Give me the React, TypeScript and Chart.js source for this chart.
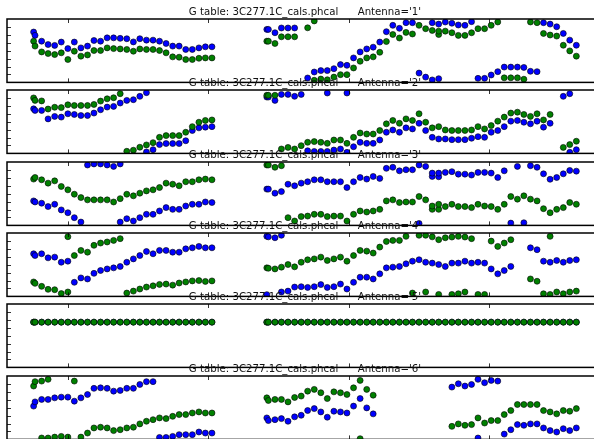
import { useEffect, useRef } from "react";
import { Chart, registerables } from "chart.js";

Chart.register(...registerables);

// Calibration table shown in every panel title
const TABLE_NAME = "3C277.1C_cals.phcal";

// Solution times (hours), first block and second block; each block starts with a
// near-duplicate solution a few seconds before the regular cadence.
const timesL = [
  9.755, 9.765, 9.812, 9.858, 9.905, 9.952, 9.999, 10.045, 10.092, 10.139, 10.185,
  10.232, 10.279, 10.325, 10.372, 10.419, 10.466, 10.512, 10.559, 10.606, 10.652,
  10.699, 10.746, 10.792, 10.839, 10.886, 10.933, 10.979, 11.026,
];
const timesR = [
  11.417, 11.428, 11.475, 11.521, 11.568, 11.615, 11.662, 11.708, 11.755, 11.802,
  11.848, 11.895, 11.942, 11.988, 12.035, 12.082, 12.129, 12.175, 12.222, 12.269,
  12.315, 12.362, 12.409, 12.455, 12.502, 12.549, 12.596, 12.642, 12.689, 12.736,
  12.782, 12.829, 12.876, 12.922, 12.969, 13.016, 13.063, 13.109, 13.156, 13.203,
  13.249, 13.296, 13.343, 13.389, 13.436, 13.483, 13.530, 13.576, 13.623,
];

// Axis ranges and tick positions
const timeMin = 9.5652;
const timeMax = 13.813;
const hourTicks = [10, 11, 12, 13];
const phaseMin = -180;
const phaseMax = 180;
const phaseTicks = [-135, -90, -45, 0, 45, 90, 135];

type Phase = number | null;

// Antenna 1 gain phases (deg): blue = pol 1, green = pol 2
const ant1BlueL: Phase[] = [106, 87, 54, 35, 30, 49, 12, 49, 16, 26, 58, 54, 73, 73, 70, 68, 50, 68, 60, 60, 54, 41, 26, 26, 7, 7, 16, 22, 22];
const ant1GreenL: Phase[] = [54, 26, -7, -16, -22, -12, -50, -3, -31, -24, 1, 1, 16, 12, 10, 7, -3, 10, 7, 7, 1, -12, -35, -37, -50, -50, -43, -41, -41];
const ant1BlueR: Phase[] = [121, 121, 102, 129, 129, 129, null, -155, -121, -113, -113, -102, -79, -83, -41, -7, 10, 20, 49, 108, 144, 127, 159, 159, null, null, 159, 151, 163, 156, 146, 144, 165, null, null, null, null, null, null, null, null, null, null, 159, 151, 136, 98, 60, 31];
const ant1GreenR: Phase[] = [54, 54, 41, 79, 79, 79, null, 130, 169, -161, -165, -150, -136, -136, -98, -60, -41, -35, -9, 52, 92, 72, 104, 95, 144, 125, 115, 111, 111, 102, 87, 87, 102, 125, 125, 144, 163, null, null, null, null, 163, 159, 98, 89, 83, 31, -1, -31];
const ant1BlueExtra: [number, number][] = [[12.502, -127], [12.549, -150], [12.596, -166], [12.642, -159], [12.922, -157], [12.969, -157], [13.016, -138], [13.063, -119], [13.109, -93], [13.156, -93], [13.203, -93], [13.249, -95], [13.296, -117], [13.343, -119]];
const ant1GreenExtra: [number, number][] = [[11.755, -168], [12.642, 92], [13.109, -154], [13.156, -154], [13.203, -154], [13.249, -162]];

// Antenna 2
const ant2BlueL: Phase[] = [73, 64, 64, 16, 30, 26, 45, 41, 35, 35, 49, 68, 83, 87, 106, 121, 125, 144, 165, -159, -130, -124, -124, -124, -108, -50, -35, -31, -28];
const ant2GreenL: Phase[] = [135, 121, 118, 72, 82, 80, 96, 92, 92, 92, 98, 117, 130, 136, 159, -168, -162, -145, -132, -119, -89, -79, -79, -79, -60, -28, -3, 7, 10];
const ant2BlueR: Phase[] = [140, 140, 121, 155, 155, 144, 155, -165, -169, -169, -169, -161, -155, -174, -142, -117, -123, -123, -104, -60, -47, -60, -35, -41, -9, -50, -89, -98, -98, -102, -102, -102, -94, -85, -89, -60, -50, -28, 3, 7, -3, -12, 3, -31, -9, null, 144, 159, -159];
const ant2GreenR: Phase[] = [150, 150, 150, -155, -146, -155, -136, -117, -113, -117, -123, -104, -104, -123, -89, -64, -70, -70, -50, -12, 7, -9, 16, 7, 45, -3, -35, -28, -47, -50, -50, -50, -47, -28, -41, -22, 3, 26, 49, 54, 41, 30, 45, 10, 41, null, -146, -130, -111];
const ant2BlueExtra: [number, number][] = [[10.559, -172], [11.848, 163], [11.988, 163], [13.576, -174]];
const ant2GreenExtra: [number, number][] = [];

// Antenna 3
const ant3BlueL: Phase[] = [-41, -47, -54, -73, -60, -92, -108, -136, -161, 163, 169, 169, 163, 155, -161, -142, -155, -136, -117, -117, -98, -79, -89, -89, -70, -60, -60, -47, -50];
const ant3GreenL: Phase[] = [83, 92, 79, 60, 73, 41, 22, -3, -22, -35, -35, -35, -35, -47, -28, -3, -12, 3, 16, 22, 35, 60, 54, 45, 68, 68, 79, 83, 79];
const ant3BlueR: Phase[] = [26, 26, 3, 12, 54, 45, 60, 68, 79, 79, 68, 68, 68, 35, 68, 92, 83, 98, 87, 144, 150, 130, 136, 136, 163, 155, 117, 117, 121, 125, 111, 111, 106, 121, 121, 117, 92, 130, -167, 155, -165, 159, 150, 113, 82, 92, 113, 132, 128];
const ant3GreenR: Phase[] = [163, 163, 150, 159, -136, -155, -130, -127, -117, -117, -130, -127, -127, -155, -117, -98, -104, -98, -89, -41, -35, -50, -47, -47, -16, -35, -70, -60, -73, -60, -73, -73, -79, -60, -70, -73, -89, -60, -16, -31, -12, -31, -41, -85, -108, -89, -79, -50, -60];
const ant3BlueExtra: [number, number][] = [[10.372, 169], [12.502, -169], [12.596, 98], [12.642, 96]];
const ant3GreenExtra: [number, number][] = [[12.596, -89], [12.642, -89]];

// Antenna 4
const ant4BlueL: Phase[] = [62, 52, 62, 39, 43, 14, 20, -100, -75, -81, -49, -33, -24, -18, -10, 14, 33, 52, 75, 62, 81, 81, 71, 71, 90, 96, 104, 96, 96];
const ant4GreenL: Phase[] = [-98, -106, -123, -140, -142, -164, -155, 52, 81, 71, 110, 123, 129, 138, 148, -161, -150, -138, -127, -120, -112, -110, -116, -104, -98, -92, -90, -95, -92];
const ant4BlueR: Phase[] = [161, 158, 153, 167, null, -127, -125, -129, -125, -113, -129, -125, -110, -138, -100, -71, -71, -81, -52, -18, -14, -10, 5, 20, 28, 14, 9, 1, -10, 9, 9, 20, 9, 14, 9, -24, -52, -33, -10, null, null, 96, 85, 20, 14, 24, 14, 24, 28];
const ant4GreenR: Phase[] = [-18, -20, -24, -14, 1, -12, 14, 28, 33, 43, 24, 33, 43, 20, 52, 81, 77, 66, 100, 132, 138, 138, 161, -161, 167, -155, 158, 142, 153, -169, 161, 157, 148, -169, -169, 134, 104, 123, 142, null, null, -81, -94, -165, 161, -155, -165, -155, -150];
const ant4BlueExtra: [number, number][] = [[11.417, -170], [11.521, -155], [11.568, -150]];
const ant4GreenExtra: [number, number][] = [[9.999, 159], [12.549, 167], [12.642, -169], [12.736, 157], [12.782, -165], [12.829, -155], [13.436, -169]];

// Antenna 5 is the reference antenna: both polarisations share one flat phase
const ant5PhaseL: Phase[] = [77, 77, 77, 77, 77, 77, 77, 77, 77, 77, 77, 77, 77, 77, 77, 77, 77, 77, 77, 77, 77, 77, 77, 77, 77, 77, 77, 77, 77];
const ant5PhaseR: Phase[] = [77, 77, 77, 77, 77, 77, 77, 77, 77, 77, 77, 77, 77, 77, 77, 77, 77, 77, 77, 77, 77, 77, 77, 77, 77, 77, 77, 77, 77, 77, 77, 77, 77, 77, 77, 77, 77, 77, 77, 77, 77, 77, 77, 77, 77, 77, 77, 77, 77];

// Antenna 6
const ant6BlueL: Phase[] = [9, 33, 47, 47, 56, 60, 60, 37, 56, 75, 110, 113, 110, 94, 98, 110, 110, 132, 148, 148, -169, -169, -163, -153, -153, -153, -138, -144, -144];
const ant6GreenL: Phase[] = [123, 148, 151, 161, -167, -163, -167, 151, -167, -144, -115, -111, -115, -130, -125, -115, -111, -92, -77, -68, -58, -62, -49, -39, -39, -30, -24, -30, -30];
const ant6BlueR: Phase[] = [-58, -73, -68, -62, -77, -52, -43, -16, -5, -24, -54, -20, -24, -30, 9, 52, -1, -35, null, null, null, null, null, null, null, null, null, null, null, 117, 136, 123, 132, 161, 142, 155, 151, -150, -125, -96, -100, -92, -92, -115, -130, -138, -119, -130, -115];
const ant6GreenR: Phase[] = [56, 41, 47, 47, 33, 58, 66, 94, 104, 85, 52, 90, 85, 75, 113, 155, 104, 71, null, null, null, null, null, null, null, null, null, null, null, -106, -92, -100, -96, -58, -87, -73, -73, -39, -16, 18, 18, 18, 18, -16, -24, -35, -16, -20, -5];
const ant6BlueExtra: [number, number][] = [[12.922, -172]];
const ant6GreenExtra: [number, number][] = [[9.812, -172], [9.858, -172], [12.082, -176]];

interface AntennaPhases {
  name: string;
  blue: Phase[];
  green: Phase[];
  blueExtra: [number, number][];
  greenExtra: [number, number][];
}

const antennas: AntennaPhases[] = [
  { name: "1", blue: [...ant1BlueL, ...ant1BlueR], green: [...ant1GreenL, ...ant1GreenR], blueExtra: ant1BlueExtra, greenExtra: ant1GreenExtra },
  { name: "2", blue: [...ant2BlueL, ...ant2BlueR], green: [...ant2GreenL, ...ant2GreenR], blueExtra: ant2BlueExtra, greenExtra: ant2GreenExtra },
  { name: "3", blue: [...ant3BlueL, ...ant3BlueR], green: [...ant3GreenL, ...ant3GreenR], blueExtra: ant3BlueExtra, greenExtra: ant3GreenExtra },
  { name: "4", blue: [...ant4BlueL, ...ant4BlueR], green: [...ant4GreenL, ...ant4GreenR], blueExtra: ant4BlueExtra, greenExtra: ant4GreenExtra },
  { name: "5", blue: [...ant5PhaseL, ...ant5PhaseR], green: [...ant5PhaseL, ...ant5PhaseR], blueExtra: [], greenExtra: [] },
  { name: "6", blue: [...ant6BlueL, ...ant6BlueR], green: [...ant6GreenL, ...ant6GreenR], blueExtra: ant6BlueExtra, greenExtra: ant6GreenExtra },
];

const allTimes = [...timesL, ...timesR];

// Layout of the stacked panels (page pixels)
const PANEL_TOPS = [19, 90, 162, 233, 304, 376];
const CANVAS_W = 610;
const PAD_TOP = 17;
const PLOT_H = 64;
const PAD_BOTTOM = 3;
const PAD_LEFT = 7;
const PAD_RIGHT = 7;

const BLUE = "#0000ff";
const GREEN = "#008000";

// Draws the matplotlib-style frame, inward ticks and the panel title
const axesFrame = {
  id: "axesFrame",
  afterDatasetsDraw(chart: any, _args: any, opts: any) {
    const { ctx, chartArea: a, scales } = chart;
    const xs = scales.x;
    const ys = scales.y;
    ctx.save();
    ctx.strokeStyle = "#000";
    ctx.lineWidth = 0.8;
    ctx.beginPath();
    for (const t of hourTicks) {
      const px = Math.round(xs.getPixelForValue(t)) + 0.5;
      ctx.moveTo(px, a.top);
      ctx.lineTo(px, a.top + 4);
      ctx.moveTo(px, a.bottom);
      ctx.lineTo(px, a.bottom - 4);
    }
    for (const v of phaseTicks) {
      const py = Math.round(ys.getPixelForValue(v)) + 0.5;
      ctx.moveTo(a.left, py);
      ctx.lineTo(a.left + 4, py);
      ctx.moveTo(a.right, py);
      ctx.lineTo(a.right - 4, py);
    }
    ctx.stroke();
    ctx.lineWidth = 1.5;
    ctx.strokeRect(a.left, a.top, a.right - a.left, a.bottom - a.top);

    ctx.fillStyle = "#111";
    ctx.font = "10.2px 'DejaVu Sans'";
    ctx.textAlign = "center";
    ctx.textBaseline = "alphabetic";
    ctx.fillText(opts.text, (a.left + a.right) / 2, a.top - 4);
    ctx.restore();
  },
};

function toPoints(values: Phase[]) {
  const pts: { x: number; y: number }[] = [];
  values.forEach((v, k) => {
    if (v !== null) pts.push({ x: allTimes[k], y: v });
  });
  return pts;
}

function markerSet(label: string, data: { x: number; y: number }[], color: string) {
  return {
    label,
    data,
    showLine: false,
    pointRadius: 3,
    pointHoverRadius: 3,
    pointBackgroundColor: color,
    pointBorderColor: "#000",
    pointBorderWidth: 0.6,
    backgroundColor: color,
    borderColor: "#000",
    clip: 0,
  };
}

function PhasePanel({ ant, top }: { ant: AntennaPhases; top: number }) {
  const ref = useRef<HTMLCanvasElement | null>(null);

  useEffect(() => {
    if (!ref.current) return;
    const chart = new Chart(ref.current, {
      type: "scatter",
      data: {
        datasets: [
          markerSet("pol 2", toPoints(ant.green), GREEN),
          markerSet("pol 2 (spw 2)", ant.greenExtra.map(([x, y]) => ({ x, y })), GREEN),
          markerSet("pol 1", toPoints(ant.blue), BLUE),
          markerSet("pol 1 (spw 2)", ant.blueExtra.map(([x, y]) => ({ x, y })), BLUE),
        ],
      },
      options: {
        responsive: false,
        animation: false,
        devicePixelRatio: 1,
        events: [],
        layout: { padding: { left: PAD_LEFT, right: PAD_RIGHT, top: PAD_TOP, bottom: PAD_BOTTOM } },
        scales: {
          x: { type: "linear", min: timeMin, max: timeMax, display: false },
          y: { type: "linear", min: phaseMin, max: phaseMax, display: false },
        },
        plugins: {
          legend: { display: false },
          tooltip: { enabled: false },
          title: { display: false },
          axesFrame: { text: `G table: ${TABLE_NAME}      Antenna='${ant.name}'` },
        } as any,
      },
      plugins: [axesFrame as any],
    });
    return () => chart.destroy();
  }, [ant]);

  return (
    <canvas
      ref={ref}
      width={CANVAS_W}
      height={PAD_TOP + PLOT_H + PAD_BOTTOM}
      style={{ position: "absolute", left: 0, top: top - PAD_TOP }}
    />
  );
}

export default function App() {
  return (
    <div
      style={{
        position: "fixed",
        left: 0,
        top: 0,
        width: 594,
        height: 439,
        overflow: "hidden",
        background: "#fff",
      }}
    >
      {antennas.map((ant, i) => (
        <PhasePanel key={ant.name} ant={ant} top={PANEL_TOPS[i]} />
      ))}
    </div>
  );
}
